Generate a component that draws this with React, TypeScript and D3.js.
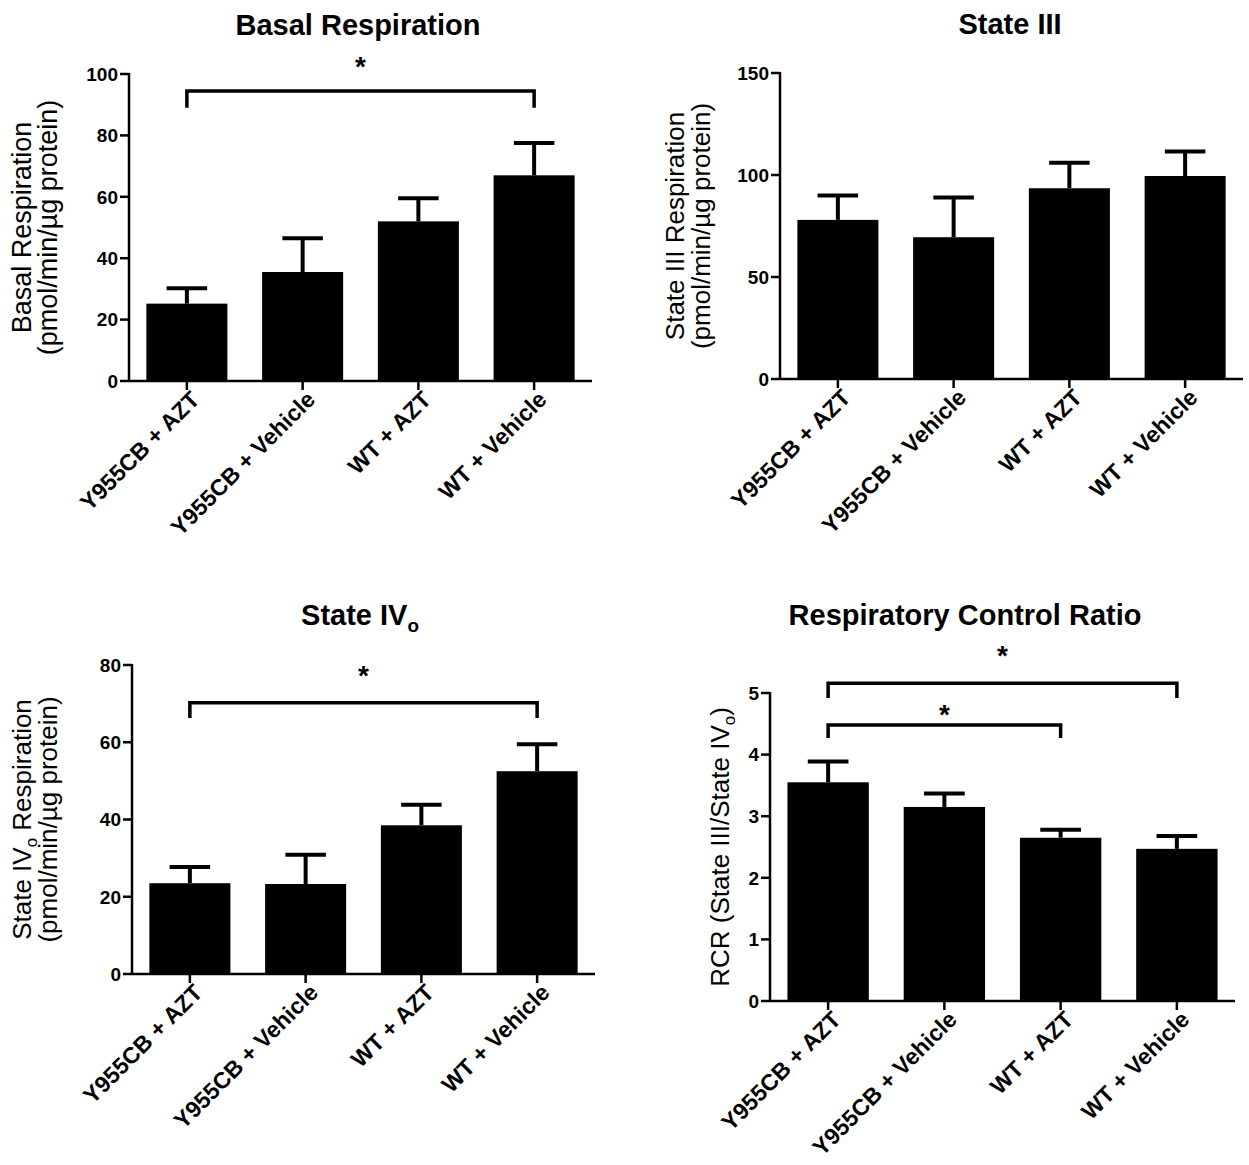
import * as d3 from 'd3';

const groups = ['Y955CB + AZT', 'Y955CB + Vehicle', 'WT + AZT', 'WT + Vehicle'];

// means and SEM
const basalMean = [25.2, 35.5, 52, 67];
const basalSem = [5, 11, 7.5, 10.5];
const stateIIIMean = [78, 69.5, 93.5, 99.5];
const stateIIISem = [12, 19.5, 12.5, 12];
const stateIVMean = [23.5, 23.3, 38.5, 52.5];
const stateIVSem = [4.2, 7.6, 5.3, 7];
const rcrMean = [3.55, 3.15, 2.65, 2.47];
const rcrSem = [0.34, 0.22, 0.13, 0.21];

const basalTicks = [0, 20, 40, 60, 80, 100];
const stateIIITicks = [0, 50, 100, 150];
const stateIVTicks = [0, 20, 40, 60, 80];
const rcrTicks = [0, 1, 2, 3, 4, 5];

// significance brackets: [from group, to group, level, drop end, star level]
const basalSig = [[0, 3, 94.5, 89, 103.5]];
const stateIIISig: number[][] = [];
const stateIVSig = [[0, 3, 70.2, 66.3, 78.2]];
const rcrSig = [
  [0, 3, 5.16, 4.92, 5.66],
  [0, 2, 4.48, 4.27, 4.71],
];

const FONT = '"Liberation Sans", Arial, Helvetica, sans-serif';

interface PanelProps {
  left: number;
  right: number;
  top: number;
  bottom: number;
  max: number;
  ticks: number[];
  mean: number[];
  sem: number[];
  sig: number[][];
  title: React.ReactNode;
  titleX: number;
  titleY: number;
  yLabel: React.ReactNode[];
  yLabelX: number;
  yLabelSize: number;
}

const Panel = (p: PanelProps) => {
  const x = d3.scaleBand<string>()
    .domain(groups)
    .range([p.left, p.right])
    .paddingInner(0.3)
    .paddingOuter(0.15);
  const y = d3.scaleLinear().domain([0, p.max]).range([p.bottom, p.top]);
  const bw = x.bandwidth();
  const cx = (i: number) => (x(groups[i]) || 0) + bw / 2;
  const yMid = (p.top + p.bottom) / 2;

  return (
    <g>
      <text x={p.titleX} y={p.titleY} textAnchor="middle" fontSize={29} fontWeight="bold">
        {p.title}
      </text>

      {/* bars */}
      {groups.map((g, i) => (
        <rect key={g} x={x(g)} y={y(p.mean[i])} width={bw}
          height={p.bottom - y(p.mean[i])} fill="#000" />
      ))}

      {/* upper error bars */}
      {groups.map((g, i) => {
        const top = y(p.mean[i] + p.sem[i]);
        return (
          <g key={g} stroke="#000" strokeWidth={4}>
            <line x1={cx(i)} x2={cx(i)} y1={y(p.mean[i])} y2={top} />
            <line x1={cx(i) - bw / 4} x2={cx(i) + bw / 4} y1={top} y2={top} />
          </g>
        );
      })}

      {/* y axis */}
      <line x1={p.left} x2={p.left} y1={p.top - 1} y2={p.bottom + 1} stroke="#000" strokeWidth={2.5} />
      {p.ticks.map((t) => (
        <g key={t}>
          <line x1={p.left - 9} x2={p.left} y1={y(t)} y2={y(t)} stroke="#000" strokeWidth={2.5} />
          <text x={p.left - 11} y={y(t)} dy="0.36em" textAnchor="end" fontSize={19} fontWeight="bold">
            {t}
          </text>
        </g>
      ))}

      {/* x axis */}
      <line x1={p.left} x2={p.right} y1={p.bottom} y2={p.bottom} stroke="#000" strokeWidth={2.5} />
      {groups.map((g, i) => (
        <g key={g}>
          <line x1={cx(i)} x2={cx(i)} y1={p.bottom} y2={p.bottom + 9} stroke="#000" strokeWidth={2.5} />
          <text transform={`translate(${cx(i) + 14},${p.bottom + 20}) rotate(-45)`}
            textAnchor="end" fontSize={23} fontWeight="bold">
            {g}
          </text>
        </g>
      ))}

      {/* y label */}
      <g transform={`translate(${p.yLabelX},${yMid}) rotate(-90)`}>
        {p.yLabel.map((l, k) => (
          <text key={k} x={0} y={k * 26} textAnchor="middle" fontSize={p.yLabelSize}>
            {l}
          </text>
        ))}
      </g>

      {/* significance */}
      {p.sig.map(([a, b, lvl, drop, star], k) => (
        <g key={k}>
          <path d={`M${cx(a)},${y(drop)}V${y(lvl)}H${cx(b)}V${y(drop)}`}
            fill="none" stroke="#000" strokeWidth={3.5} />
          <text x={(cx(a) + cx(b)) / 2} y={y(star) + 13} textAnchor="middle"
            fontSize={28} fontWeight="bold">*</text>
        </g>
      ))}
    </g>
  );
};

const sub = (t: string) => (
  <tspan fontSize="0.65em" dy="0.35em">{t}</tspan>
);

export default function App() {
  return (
    <svg width={1249} height={1165} fontFamily={FONT}
      style={{ position: 'absolute', left: 0, top: 0, background: '#fff' }}>
      <Panel left={129} right={592} top={74} bottom={381} max={100} ticks={basalTicks}
        mean={basalMean} sem={basalSem} sig={basalSig}
        title="Basal Respiration" titleX={358} titleY={35}
        yLabel={['Basal Respiration', '(pmol/min/µg protein)']} yLabelX={31} yLabelSize={27} />
      <Panel left={780} right={1243} top={73} bottom={379} max={150} ticks={stateIIITicks}
        mean={stateIIIMean} sem={stateIIISem} sig={stateIIISig}
        title="State III" titleX={1010} titleY={34}
        yLabel={['State III Respiration', '(pmol/min/µg protein)']} yLabelX={684} yLabelSize={26} />
      <Panel left={132} right={595} top={665} bottom={974} max={80} ticks={stateIVTicks}
        mean={stateIVMean} sem={stateIVSem} sig={stateIVSig}
        title={<>State IV{sub('o')}</>} titleX={360} titleY={625}
        yLabel={[<>State IV{sub('o')}<tspan dy="-0.23em"> Respiration</tspan></>, '(pmol/min/µg protein)']}
        yLabelX={31} yLabelSize={26} />
      <Panel left={770} right={1235} top={693} bottom={1001} max={5} ticks={rcrTicks}
        mean={rcrMean} sem={rcrSem} sig={rcrSig}
        title="Respiratory Control Ratio" titleX={965} titleY={625}
        yLabel={[<>RCR (State III/State IV{sub('o')}<tspan dy="-0.23em">)</tspan></>]}
        yLabelX={729} yLabelSize={26} />
    </svg>
  );
}
